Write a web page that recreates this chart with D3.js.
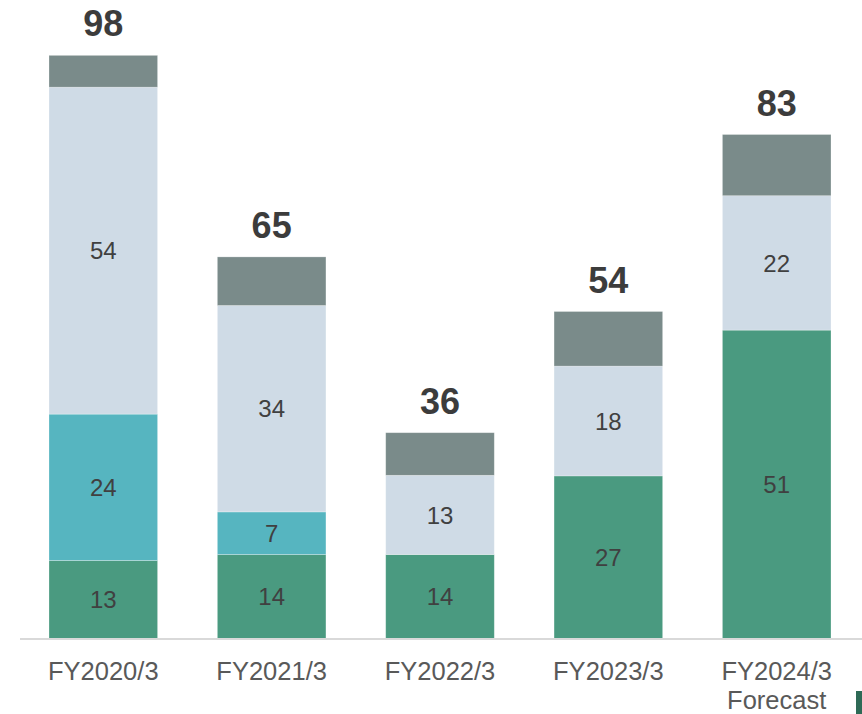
<!DOCTYPE html>
<html>
<head>
<meta charset="utf-8">
<script src="https://cdn.jsdelivr.net/npm/d3@7"></script>
<style>
  html, body { margin: 0; padding: 0; background: #fff; }
  svg { display: block; font-family: Arial, "Liberation Sans", sans-serif; }
</style>
</head>
<body>
<div id="chart"></div>
<script>
// Stacked bars by fiscal year
const categories = ['FY2020/3', 'FY2021/3', 'FY2022/3', 'FY2023/3', 'FY2024/3'];
const subLabels = ['', '', '', '', 'Forecast'];
const greenValues = [13.0, 14.0, 14.0, 27.1, 51.4];
const tealValues = [24.4, 7.1, 0, 0, 0];
const lightValues = [54.49, 34.4, 13.2, 18.3, 22.4];
const grayValues = [5.3, 8.1, 7.1, 9.1, 10.2];
const totalLabels = [98, 65, 36, 54, 83];

const seriesKeys = ['green', 'teal', 'light', 'gray'];
const colors = { green: '#4a9a80', teal: '#56b5c0', light: '#cfdbe6', gray: '#7a8b8a' };
const showLabel = { green: true, teal: true, light: true, gray: false };

const width = 862, height = 714;
const margin = { top: 38.5, bottom: 75.5, left: 20, right: 0 };

const rows = categories.map((c, i) => ({
    cat: c,
    green: greenValues[i],
    teal: tealValues[i],
    light: lightValues[i],
    gray: grayValues[i],
    total: totalLabels[i],
    sub: subLabels[i]
}));

const svg = d3.select('#chart').append('svg')
    .attr('width', width)
    .attr('height', height);

// bars are ~108px wide on a ~168px step
const x = d3.scaleBand()
    .domain(categories)
    .range([49, 831])
    .paddingInner(0.355)
    .paddingOuter(0);

const y = d3.scaleLinear()
    .domain([0, 100])
    .range([height - margin.bottom, margin.top]);

const layers = d3.stack().keys(seriesKeys)(rows);

const g = svg.append('g');

layers.forEach(layer => {
    const key = layer.key;
    const segs = layer.filter(d => d[1] - d[0] > 0);

    g.selectAll('.seg-' + key)
        .data(segs)
        .enter()
        .append('rect')
        .attr('class', 'seg-' + key)
        .attr('x', d => x(d.data.cat))
        .attr('y', d => y(d[1]))
        .attr('width', x.bandwidth())
        .attr('height', d => y(d[0]) - y(d[1]))
        .attr('fill', colors[key])
        .attr('stroke', '#ffffff')
        .attr('stroke-opacity', 0.35)
        .attr('stroke-width', 0.75);

    if (showLabel[key]) {
        g.selectAll('.lbl-' + key)
            .data(segs)
            .enter()
            .append('text')
            .attr('x', d => x(d.data.cat) + x.bandwidth() / 2)
            .attr('y', d => (y(d[0]) + y(d[1])) / 2)
            .attr('dy', '0.36em')
            .attr('text-anchor', 'middle')
            .attr('font-size', 24)
            .attr('fill', '#404040')
            .text(d => Math.round(d[1] - d[0]));
    }
});

// totals above each bar
g.selectAll('.total')
    .data(layers[layers.length - 1])
    .enter()
    .append('text')
    .attr('class', 'total')
    .attr('x', d => x(d.data.cat) + x.bandwidth() / 2)
    .attr('y', d => y(d[1]) - 19)
    .attr('text-anchor', 'middle')
    .attr('font-size', 36)
    .attr('font-weight', 'bold')
    .attr('fill', '#3c3c3c')
    .text(d => d.data.total);

// baseline
svg.append('line')
    .attr('x1', margin.left)
    .attr('x2', width)
    .attr('y1', y(0) + 0.5)
    .attr('y2', y(0) + 0.5)
    .attr('stroke', '#d9d9d9')
    .attr('stroke-width', 2);

// category labels
const ticks = svg.append('g');
ticks.selectAll('.tick')
    .data(rows)
    .enter()
    .append('text')
    .attr('x', d => x(d.cat) + x.bandwidth() / 2)
    .attr('y', 680)
    .attr('text-anchor', 'middle')
    .attr('font-size', 25.5)
    .attr('fill', '#595959')
    .text(d => d.cat);

ticks.selectAll('.sub')
    .data(rows.filter(d => d.sub))
    .enter()
    .append('text')
    .attr('x', d => x(d.cat) + x.bandwidth() / 2)
    .attr('y', 709)
    .attr('text-anchor', 'middle')
    .attr('font-size', 25.5)
    .attr('fill', '#595959')
    .text(d => d.sub);

// legend swatch cut off at the right edge
svg.append('rect')
    .attr('x', 856)
    .attr('y', 691)
    .attr('width', 20)
    .attr('height', 23)
    .attr('fill', '#2e6a56');
</script>
</body>
</html>
